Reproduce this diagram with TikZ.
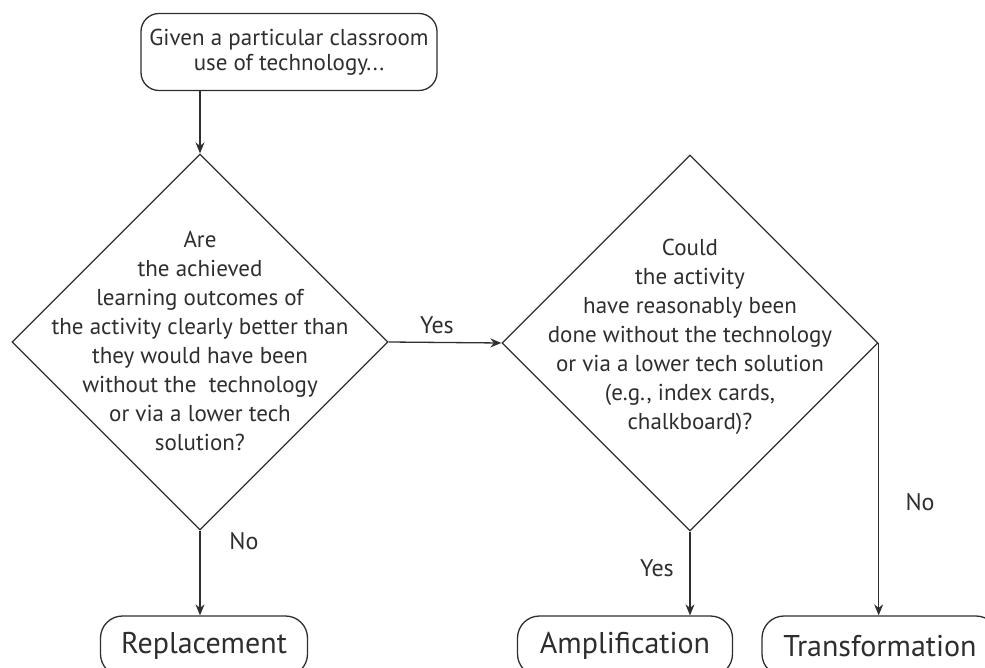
\documentclass[tikz,border=0pt]{standalone}
\usepackage{fontspec}
\setmainfont{PT Sans}
\usetikzlibrary{shapes.geometric,arrows.meta}
\definecolor{ink}{HTML}{2E2E2E}

\begin{document}
\begin{tikzpicture}[x=0.5pt,y=-0.5pt,
  every node/.style={text=ink},
  line/.style={draw=ink,line width=0.65pt},
  arr/.style={line,-{Stealth[length=5.5pt,width=4.5pt]}},
  startbox/.style={line,rounded corners=9pt,minimum width=148pt,minimum height=38.5pt,align=center,font=\fontsize{11.5}{12.5}\selectfont},
  decision/.style={line,diamond,minimum width=188pt,minimum height=188pt,inner sep=0pt},
  qtext/.style={align=center,font=\fontsize{11.5}{14.5}\selectfont},
  result/.style={line,rounded corners=11pt,minimum height=30pt,font=\fontsize{15}{16}\selectfont},
  lbl/.style={font=\fontsize{12}{13}\selectfont}]
  \clip (0,0) rectangle (985,668);
  \node[startbox] (start) at (289,52) {Given a particular classroom\\use of technology...};
  \node[decision] (q1) at (200,342) {};
  \node[qtext] (q1text) at (200,341) {Are\\the achieved\\learning outcomes of\\the activity clearly better than\\they would have been\\without the\ \ technology\\or via a lower tech\\solution?};
  \node[decision] (q2) at (690,343) {};
  \node[qtext] (q2text) at (690,337) {Could\\the activity\\have reasonably been\\done without the technology\\or via a lower tech solution\\(e.g., index cards,\\chalkboard)?};
  \node[result,minimum width=103.5pt] (repl) at (204,646) {Replacement};
  \node[result,minimum width=107.5pt] (ampl) at (625,646) {Amplification};
  \node[result,minimum width=118pt] (trans) at (880,646) {Transformation};
  \draw[arr] (q1.north |- start.south) -- (q1.north);
  \draw[arr] (q1.east) -- (q2.west);
  \draw[arr] (q1.south) -- (q1.south |- repl.north);
  \draw[arr] (q2.south) -- (q2.south |- ampl.north);
  \draw[arr] (q2.east) -- (q2.east |- trans.north);
  \node[lbl] (yes1) at (437,325) {Yes};
  \node[lbl] (no1) at (244,541) {No};
  \node[lbl] (yes2) at (657,568) {Yes};
  \node[lbl] (no2) at (920,502) {No};
\end{tikzpicture}
\end{document}
